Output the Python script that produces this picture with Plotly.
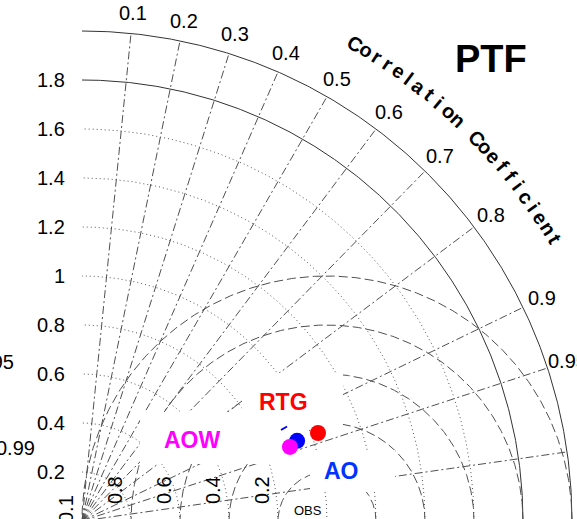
import numpy as np
import plotly.graph_objects as go

# ---------------- data ----------------
models = ["RTG", "AO", "AOW"]
model_std = [1.028, 0.937, 0.901]      # normalised standard deviation
model_corr = [0.937, 0.937, 0.942]     # correlation coefficient
model_colors = ["#ff0000", "#0000ff", "#ff00ff"]

ref_std = 1.0
ref_label = "OBS"

std_dotted = [0.2, 0.4, 0.6, 0.8, 1.0, 1.2, 1.4, 1.6]
std_solid = [1.8, 2.0]
std_tick_vals = [0.2, 0.4, 0.6, 0.8, 1.0, 1.2, 1.4, 1.6, 1.8]
std_tick_text = ["0.2", "0.4", "0.6", "0.8", "1", "1.2", "1.4", "1.6", "1.8"]
std_max = 2.0

corr_ticks = [0.1, 0.2, 0.3, 0.4, 0.5, 0.6, 0.7, 0.8, 0.9, 0.95, 0.99]
corr_tick_text = ["0.1", "0.2", "0.3", "0.4", "0.5", "0.6", "0.7", "0.8", "0.9", "0.95", "0.99"]

rmsd_circles = [0.2, 0.4, 0.6, 0.8, 1.0]
rmsd_tick_vals = [0.2, 0.4, 0.6, 0.8]
rmsd_tick_text = ["0.2", "0.4", "0.6", "0.8"]

panel_title = "PTF"
corr_title = "Correlation Coefficient"

# ---------------- layout helpers ----------------
W, H = 577, 519
S = 245.0            # pixels per unit
OX, OY = 82.0, 521.0  # pixel position of the origin


def px(xp, yp):
    return (xp - OX) / S, (OY - yp) / S


FONT = "Liberation Sans, Arial, sans-serif"
GRID = "#505050"

fig = go.Figure()

# dotted std arcs
th = np.linspace(0, np.pi / 2, 300)
for s in std_dotted:
    fig.add_trace(go.Scatter(x=s * np.cos(th), y=s * np.sin(th), mode="lines",
                             line=dict(color="#555555", width=1, dash="1px,3px"),
                             hoverinfo="skip", showlegend=False))
# solid std arcs
for s in std_solid:
    fig.add_trace(go.Scatter(x=s * np.cos(th), y=s * np.sin(th), mode="lines",
                             line=dict(color="#333333", width=1),
                             hoverinfo="skip", showlegend=False))
# RMSD circles centred on the reference
ph = np.linspace(0, np.pi, 400)
for r in rmsd_circles:
    xs = ref_std + r * np.cos(ph)
    ys = r * np.sin(ph)
    keep = np.hypot(xs, ys) <= std_max + 1e-9
    fig.add_trace(go.Scatter(x=np.where(keep, xs, np.nan), y=np.where(keep, ys, np.nan),
                             mode="lines", line=dict(color=GRID, width=1, dash="9px,4px"),
                             hoverinfo="skip", showlegend=False))
# correlation rays
for c in corr_ticks:
    a = np.arccos(c)
    fig.add_trace(go.Scatter(x=[0, std_max * np.cos(a)], y=[0, std_max * np.sin(a)],
                             mode="lines", line=dict(color=GRID, width=1, dash="8px,3px,2px,3px"),
                             hoverinfo="skip", showlegend=False))

# white label boxes (pixel extents)
boxes = [(242, 343, 373, 428), (140, 300, 412, 464), (310, 395, 450, 492)]
for x0, x1, y0, y1 in boxes:
    a0, b0 = px(x0, y0)
    a1, b1 = px(x1, y1)
    fig.add_trace(go.Scatter(x=[a0, a1, a1, a0, a0], y=[b0, b0, b1, b1, b0], mode="lines",
                             fill="toself", fillcolor="white", line=dict(width=0, color="white"),
                             hoverinfo="skip", showlegend=False))

# reference point
fig.add_trace(go.Scatter(x=[ref_std], y=[0], mode="markers",
                         marker=dict(color="black", size=5), cliponaxis=False,
                         hoverinfo="skip", showlegend=False))

# small blue stroke near the points
bx0, by0 = px(281, 430)
bx1, by1 = px(287, 426.5)
fig.add_trace(go.Scatter(x=[bx0, bx1], y=[by0, by1], mode="lines",
                         line=dict(color="#0000ff", width=2), hoverinfo="skip", showlegend=False))

# model points
for name, s, c, col in zip(models, model_std, model_corr, model_colors):
    a = np.arccos(c)
    fig.add_trace(go.Scatter(x=[s * np.cos(a)], y=[s * np.sin(a)], mode="markers",
                             marker=dict(color=col, size=16, line=dict(width=0)),
                             name=name, showlegend=False))

ann = []
# std tick labels
for v, t in zip(std_tick_vals, std_tick_text):
    ann.append(dict(x=px(67, 0)[0], y=v, text=t, xanchor="right", yanchor="middle",
                    showarrow=False, font=dict(family=FONT, size=20, color="black")))
# correlation tick labels
R_lab = 2.085
for c, t in zip(corr_ticks, corr_tick_text):
    a = np.arccos(c)
    ann.append(dict(x=R_lab * np.cos(a), y=R_lab * np.sin(a), text=t, xanchor="center",
                    yanchor="middle", showarrow=False,
                    font=dict(family=FONT, size=20, color="black")))
# curved axis title
R_t = 550 / S
a_start, a_step = 60.2, 1.336
for i, ch in enumerate(corr_title):
    if ch == " ":
        continue
    ang = np.radians(a_start - i * a_step)
    ann.append(dict(x=R_t * np.cos(ang), y=R_t * np.sin(ang), text=ch,
                    textangle=90 - np.degrees(ang), xanchor="center", yanchor="middle",
                    showarrow=False, font=dict(family=FONT, size=20, color="black", weight="bold")))
# RMSD labels
for v, t in zip(rmsd_tick_vals, rmsd_tick_text):
    ann.append(dict(x=ref_std - v - 0.065, y=px(0, 490)[1], text=t, textangle=-90,
                    xanchor="center", yanchor="middle", showarrow=False,
                    font=dict(family=FONT, size=20, color="black")))
# OBS label
ox, oy = px(308, 510)
ann.append(dict(x=ox, y=oy, text=ref_label, showarrow=False, xanchor="center", yanchor="middle",
                font=dict(family=FONT, size=13, color="black")))
# model labels
label_pos = {"RTG": (283, 402), "AOW": (192, 440), "AO": (341, 471)}
label_cols = {"RTG": "#ff0000", "AOW": "#ff00ff", "AO": "#0033ff"}
for name in ["RTG", "AOW", "AO"]:
    lx, ly = px(*label_pos[name])
    ann.append(dict(x=lx, y=ly, text=name, showarrow=False, xanchor="center", yanchor="middle",
                    font=dict(family=FONT, size=23, color=label_cols[name], weight="bold")))
# panel title
tx, ty = px(491, 59)
ann.append(dict(x=tx, y=ty, text=panel_title, showarrow=False, xanchor="center", yanchor="middle",
                font=dict(family=FONT, size=38, color="black", weight="bold")))
# labels of the neighbouring panel, cut by the left edge
for t, (xp, yp) in [("0.95", (16, 362)), ("0.99", (37, 448))]:
    lx, ly = px(xp, yp)
    ann.append(dict(x=lx, y=ly, text=t, xanchor="right", yanchor="middle", showarrow=False,
                    font=dict(family=FONT, size=20, color="black")))
lx, ly = px(66, 509)
ann.append(dict(x=lx, y=ly, text="0.1", textangle=-90, xanchor="center", yanchor="middle",
                showarrow=False, font=dict(family=FONT, size=20, color="black")))

fig.update_layout(
    width=W, height=H, margin=dict(l=0, r=0, t=0, b=0),
    paper_bgcolor="white", plot_bgcolor="white",
    xaxis=dict(range=[-OX / S, (W - OX) / S], visible=False, fixedrange=True),
    yaxis=dict(range=[(OY - H) / S, OY / S], visible=False, fixedrange=True),
    annotations=ann, showlegend=False,
)
fig.write_html("out.html", config={"displayModeBar": False},
               post_script="document.body.style.margin='0px';document.body.style.overflow='hidden';")
